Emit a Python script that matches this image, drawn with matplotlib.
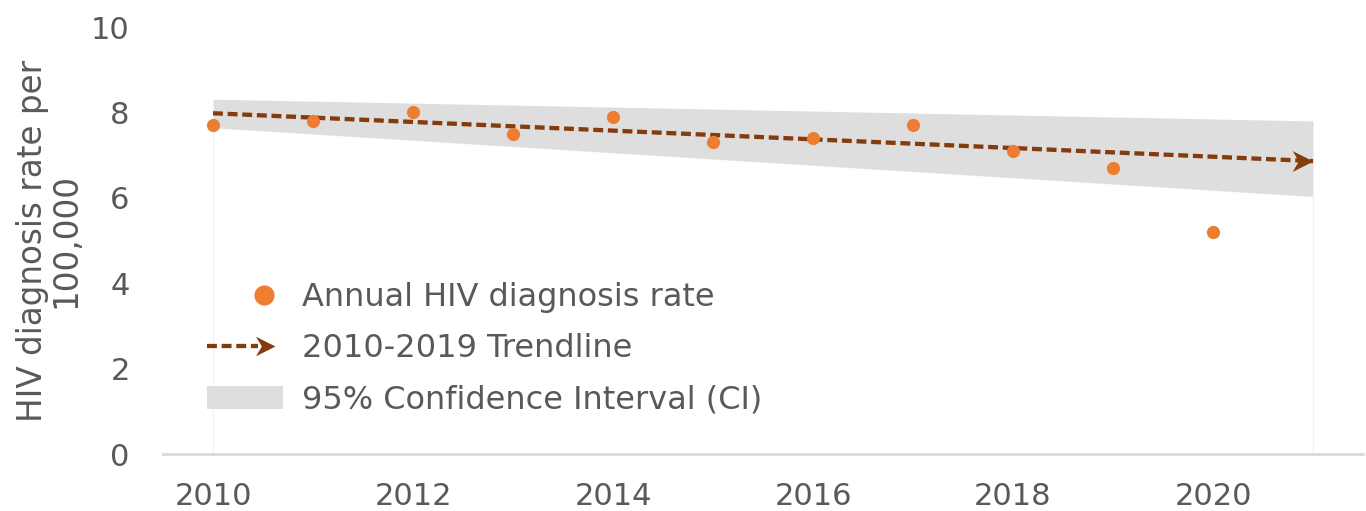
import matplotlib
matplotlib.use("Agg")
import matplotlib.pyplot as plt
from matplotlib.lines import Line2D
from matplotlib.patches import Patch
from matplotlib.path import Path
from matplotlib.legend_handler import HandlerBase

# ---- data ----
years = [2010, 2011, 2012, 2013, 2014, 2015, 2016, 2017, 2018, 2019, 2020]
rates = [7.7, 7.8, 8.0, 7.5, 7.9, 7.3, 7.4, 7.7, 7.1, 6.7, 5.2]

trend_years = [2010, 2021]
trend_values = [7.98, 6.86]

ci_years = [2010, 2021]
ci_lower = [7.64, 6.03]
ci_upper = [8.31, 7.80]

x_ticks = [2010, 2012, 2014, 2016, 2018, 2020]
y_ticks = [0, 2, 4, 6, 8, 10]

labels = ["Annual HIV diagnosis rate", "2010-2019 Trendline", "95% Confidence Interval (CI)"]
y_label = "HIV diagnosis rate per\n100,000"

# ---- style ----
ORANGE = "#ED7D31"
BROWN = "#843C0C"
GREY_BAND = "#DEDEDE"
TEXT = "#595959"
AXIS = "#D9D9D9"
DASH = (0, (2.3, 1.1))
LW = 3.1

# stealth arrow head with tip at (0, 0)
STEALTH = Path([(0, 0), (-1.0, 0.5), (-0.7, 0), (-1.0, -0.5), (0, 0)],
               [Path.MOVETO, Path.LINETO, Path.LINETO, Path.LINETO, Path.CLOSEPOLY])

plt.rcParams['font.family'] = ['DejaVu Sans']

fig = plt.figure(figsize=(13.66, 5.11), dpi=100)
ax = fig.add_axes([163 / 1366, 1 - 454 / 511, 1200 / 1366, (454 - 27) / 511])

ax.fill_between(ci_years, ci_lower, ci_upper, color=GREY_BAND, linewidth=0, zorder=1)
ax.vlines(ci_years, [0, 0], ci_lower, color="#F2F2F2", linewidth=1, zorder=0.5)

ax.plot(trend_years, trend_values, color=BROWN, linewidth=LW,
        linestyle=DASH, zorder=2)
ax.plot(trend_years[-1:], trend_values[-1:], linestyle="none", marker=STEALTH,
        markersize=30, color=BROWN, markeredgewidth=0, zorder=3)

ax.plot(years, rates, linestyle="none", marker="o", markersize=9.5,
        color=ORANGE, markeredgewidth=0, zorder=4)

ax.set_xlim(2009.5, 2021.5)
ax.set_ylim(0, 10)
ax.set_xticks(x_ticks)
ax.set_yticks(y_ticks)
ax.tick_params(axis="both", length=0, labelsize=22, labelcolor=TEXT)
ax.tick_params(axis="x", pad=20)
ax.tick_params(axis="y", pad=24)
for s in ["top", "right", "left"]:
    ax.spines[s].set_visible(False)
ax.spines["bottom"].set_color(AXIS)
ax.spines["bottom"].set_linewidth(2)

ax.set_ylabel(y_label, fontsize=23.5, color=TEXT, linespacing=1.0)
ax.yaxis.set_label_coords((82 - 163) / 1200, 0.5)


class ArrowLineHandler(HandlerBase):
    def create_artists(self, legend, orig_handle, xdescent, ydescent,
                       width, height, fontsize, trans):
        y = height / 2 - ydescent
        x0 = -xdescent
        x1 = width - xdescent - 6
        line = Line2D([x0, x1 - 12], [y, y], color=BROWN, linewidth=LW,
                      linestyle=DASH)
        line.set_transform(trans)
        head = Line2D([x1], [y], linestyle="none", marker=STEALTH,
                      markersize=28, color=BROWN, markeredgewidth=0)
        head.set_transform(trans)
        return [line, head]


class DotHandler(HandlerBase):
    def create_artists(self, legend, orig_handle, xdescent, ydescent,
                       width, height, fontsize, trans):
        y = height / 2 - ydescent
        x = -xdescent + 0.75 * width
        dot = Line2D([x], [y], linestyle="none", marker="o", markersize=14.5,
                     color=ORANGE, markeredgewidth=0)
        dot.set_transform(trans)
        return [dot]


class _Dot:
    pass


class _Trend:
    pass


h_ci = Patch(facecolor=GREY_BAND, edgecolor="none")

leg = ax.legend([_Dot(), _Trend(), h_ci], labels,
                handler_map={_Dot: DotHandler(), _Trend: ArrowLineHandler()},
                loc="upper left", bbox_to_anchor=(207 / 1366, 1 - 282 / 511),
                bbox_transform=fig.transFigure, frameon=False,
                fontsize=23, labelcolor=TEXT, handlelength=2.38,
                handleheight=0.72, handletextpad=0.6, labelspacing=0.64,
                borderpad=0, borderaxespad=0)

fig.savefig("out.png", dpi=100)
